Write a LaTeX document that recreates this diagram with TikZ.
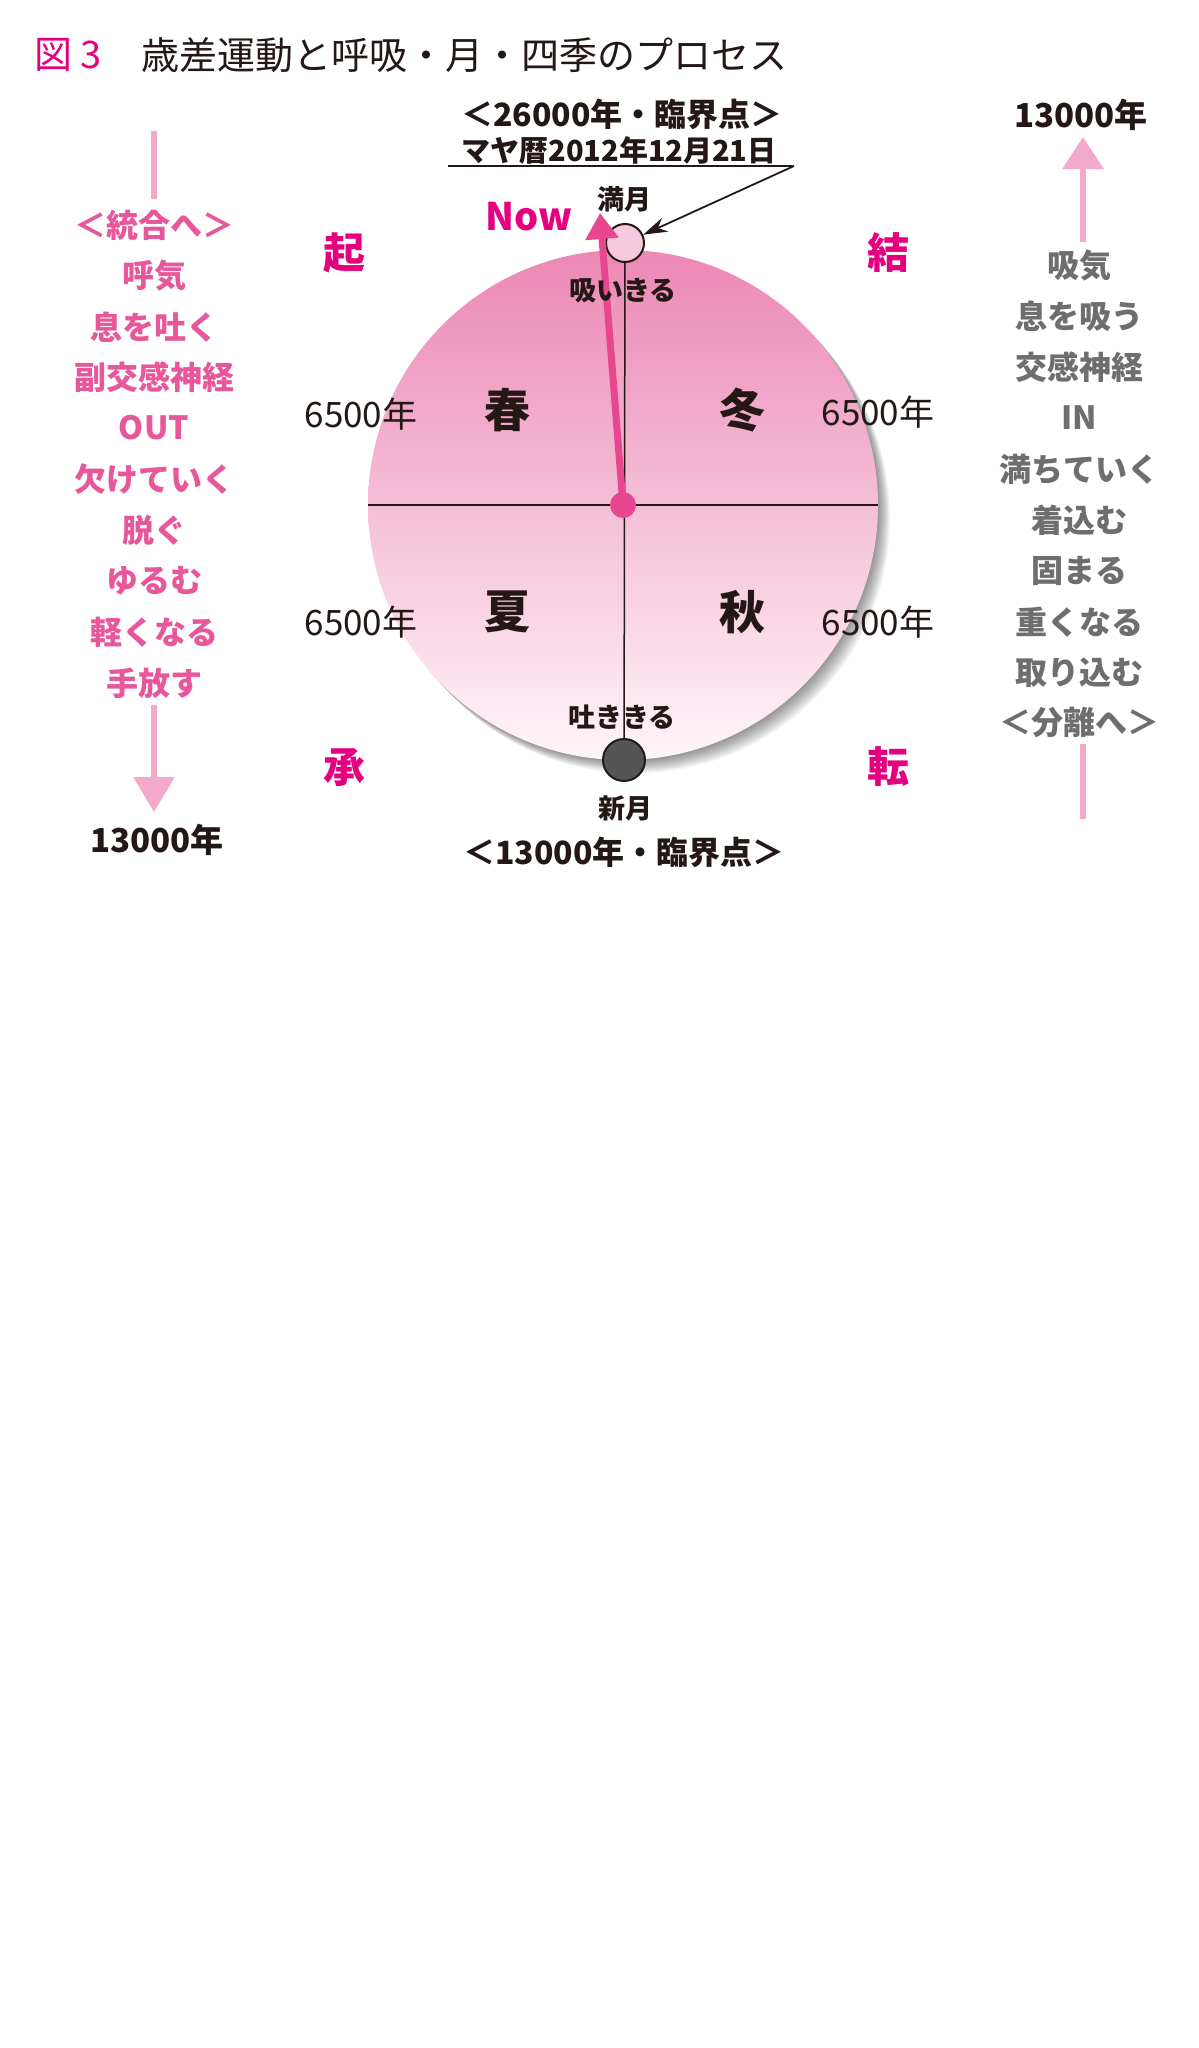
\documentclass[tikz,border=0pt]{standalone}
\usepackage{fontspec}
\setmainfont{Noto Sans CJK JP}
\usetikzlibrary{arrows.meta}
\definecolor{ink}{HTML}{231815}
\definecolor{mag}{HTML}{E4007F}
\definecolor{lpink}{HTML}{E8579A}
\definecolor{apink}{HTML}{F3A9C9}
\definecolor{nowpink}{HTML}{E8478F}
\definecolor{rgray}{HTML}{6E6E6E}
\definecolor{fmfill}{HTML}{F6C9DD}
\definecolor{nmfill}{HTML}{555555}
\tikzset{
  fs/.style={font=\fontsize{#1}{#1}\selectfont},
  txt/.style={inner sep=0pt, anchor=center},
  blk/.style={txt, text=ink, font=\fontsize{#1}{#1}\selectfont\bfseries},
  reg/.style={txt, text=ink, font=\fontsize{#1}{#1}\selectfont},
  corner/.style={txt, text=mag, font=\fontsize{42}{42}\selectfont\bfseries},
  season/.style={txt, text=ink, font=\fontsize{46}{46}\selectfont\bfseries},
  lcol/.style={txt, text=lpink, font=\fontsize{32}{32}\selectfont\bfseries},
  rcol/.style={txt, text=rgray, font=\fontsize{32}{32}\selectfont\bfseries},
  colshaft/.style={draw=apink, line width=6pt},
  moon/.style={circle, draw=ink, line width=2pt, inner sep=0pt},
}
\begin{document}
\begin{tikzpicture}[x=1pt,y=-1pt]
\useasboundingbox (0,0) rectangle (1199,2048);
\fill[white] (0,0) rectangle (1199,2048);

% title
\node[txt, anchor=west, text=mag, fs=38] (fig) at (34,55) {図 3};
\node[txt, anchor=west, text=ink, fs=38] (title) at (141,55) {歳差運動と呼吸・月・四季のプロセス};

% soft shadow of the disc
\foreach \i in {1,...,12}
  \fill[black, opacity=0.04] (623+1.0*\i, 505+1.1*\i) circle (255);

% the disc
\node[circle, inner sep=0pt, minimum size=510pt,
      top color={rgb,255:red,236;green,136;blue,180},
      middle color={rgb,255:red,243;green,182;blue,207},
      bottom color={rgb,255:red,254;green,245;blue,249}] (disc) at (623,505) {};
\coordinate (C) at (623,505);
\draw[ink, line width=1.5pt] (disc.west) -- (disc.east);

% moons
\node[moon, fill=fmfill, minimum size=38pt] (FM) at (625,243) {};
\node[moon, fill=nmfill, minimum size=42pt] (NM) at (624,760) {};
\draw[ink, line width=1.5pt] (FM) -- (NM);

% Now arrow
\coordinate (nowtip) at (600,213);
\draw[nowpink, line width=7pt, -{Triangle[length=26pt,width=32pt]}] (C) -- (nowtip);
\fill[nowpink] (C) circle (13);
\node[txt, text=mag, font=\fontsize{38}{38}\selectfont\bfseries] (now) at (529,217) {Now};

% top labels
\node[blk=32] (t1) at (622,114) {＜26000年・臨界点＞};
\node[blk=29] (t2) at (619,150) {マヤ暦2012年12月21日};
\coordinate (ul) at (448,166);
\coordinate (ue) at (794,166);
\draw[ink, line width=1.8pt] (ul) -- (ue);
\draw[ink, line width=1.8pt, -{Stealth[length=24pt,width=15pt]}] (ue) -- (FM);
\node[blk=27] (mangetsu) at (624,199) {満月};
\node[blk=27] (suikiru) at (623,291) {吸いきる};
\node[blk=27] (hakikiru) at (622,717) {吐ききる};
\node[blk=27] (shingetsu) at (625,808) {新月};
\node[blk=32] (b1) at (624,852) {＜13000年・臨界点＞};

% seasons
\node[season] (haru) at (507,410) {春};
\node[season] (fuyu) at (742,410) {冬};
\node[season] (natsu) at (507,612) {夏};
\node[season] (aki) at (742,612) {秋};

% 6500
\node[reg=35] (y1) at (361,414) {6500年};
\node[reg=35] (y2) at (361,622) {6500年};
\node[reg=35] (y3) at (878,412) {6500年};
\node[reg=35] (y4) at (878,622) {6500年};

% corners
\node[corner] (ki) at (344,253) {起};
\node[corner] (ketsu) at (888,253) {結};
\node[corner] (sho) at (344,767) {承};
\node[corner] (ten) at (888,767) {転};

% left column
\node[lcol] (L1) at (154,225) {＜統合へ＞};
\node[lcol] (L2) at (154,276) {呼気};
\node[lcol] (L3) at (154,327) {息を吐く};
\node[lcol] (L4) at (154,377) {副交感神経};
\node[lcol] (L5) at (154,428) {OUT};
\node[lcol] (L6) at (154,479) {欠けていく};
\node[lcol] (L7) at (154,530) {脱ぐ};
\node[lcol] (L8) at (154,581) {ゆるむ};
\node[lcol] (L9) at (154,632) {軽くなる};
\node[lcol] (L10) at (154,683) {手放す};
\node[blk=33] (L13) at (157,840) {13000年};
\coordinate (lt1) at (154,131);
\coordinate (lt2) at (154,199);
\draw[colshaft] (lt1) -- (lt2);
\coordinate (lb1) at (154,705);
\coordinate (lb2) at (154,812);
\draw[colshaft, -{Triangle[length=35pt,width=40pt,fill=apink]}] (lb1) -- (lb2);

% right column
\node[blk=33] (R13) at (1081,115) {13000年};
\node[rcol] (R1) at (1079,266) {吸気};
\node[rcol] (R2) at (1079,316) {息を吸う};
\node[rcol] (R3) at (1079,367) {交感神経};
\node[rcol] (R4) at (1079,418) {IN};
\node[rcol] (R5) at (1079,469) {満ちていく};
\node[rcol] (R6) at (1079,520) {着込む};
\node[rcol] (R7) at (1079,571) {固まる};
\node[rcol] (R8) at (1079,622) {重くなる};
\node[rcol] (R9) at (1079,673) {取り込む};
\node[rcol] (R10) at (1079,722) {＜分離へ＞};
\coordinate (rt1) at (1083,242);
\coordinate (rt2) at (1083,137);
\draw[colshaft, -{Triangle[length=32pt,width=40pt,fill=apink]}] (rt1) -- (rt2);
\coordinate (rb1) at (1083,744);
\coordinate (rb2) at (1083,819);
\draw[colshaft] (rb1) -- (rb2);
\end{tikzpicture}
\end{document}
